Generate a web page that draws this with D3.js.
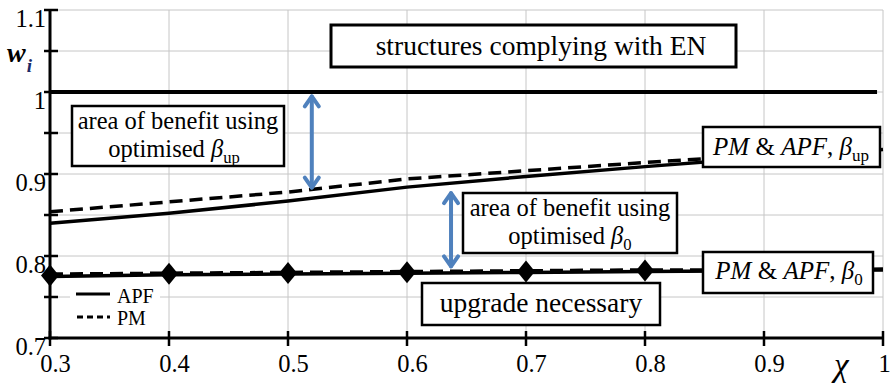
<!DOCTYPE html>
<html>
<head>
<meta charset="utf-8">
<script src="https://cdn.jsdelivr.net/npm/d3@7/dist/d3.min.js"></script>
<style>
  .serif { font-family: 'Liberation Serif', 'Times New Roman', Tinos, serif; }
</style>
</head>
<body style="margin:0;background:#fff">
<svg id="chart" width="891" height="384" class="serif"></svg>
<script>
// Relative load-bearing capacity w_i against the ratio chi
const chi = [0.3, 0.4, 0.5, 0.6, 0.7, 0.8, 0.9, 1.0];
const apfUp = [0.840, 0.852, 0.867, 0.884, 0.897, 0.909, 0.920, 0.930];
const pmUp  = [0.854, 0.866, 0.878, 0.894, 0.904, 0.914, 0.923, 0.932];
const apf0  = [0.775, 0.777, 0.778, 0.779, 0.780, 0.781, 0.782, 0.783];
const pm0   = [0.778, 0.779, 0.780, 0.781, 0.782, 0.783, 0.783, 0.784];
const markerChi = [0.3, 0.4, 0.5, 0.6, 0.7, 0.8];
const enLevel = 1.0;

const xTicks = [0.3, 0.4, 0.5, 0.6, 0.7, 0.8, 0.9, 1.0];
const xTickLabels = ["0.3", "0.4", "0.5", "0.6", "0.7", "0.8", "0.9", "1"];
const yTicks = [0.7, 0.75, 0.8, 0.85, 0.9, 0.95, 1.0, 1.05, 1.1];
const yTickLabels = ["0.7", "", "0.8", "", "0.9", "", "1", "", "1.1"];

// Annotation arrows: chi position and the w range they span
const arrowUp = { chi: 0.52, from: 0.997, to: 0.881 };
const arrow0  = { chi: 0.637, from: 0.879, to: 0.785 };

const svg = d3.select("#chart");
const x = d3.scaleLinear().domain([0.3, 1.0]).range([50, 883]);
const y = d3.scaleLinear().domain([0.7, 1.1]).range([338, 10]);

// grid
const grid = svg.append("g");
grid.selectAll("line.h").data(yTicks).join("line")
  .attr("x1", x(0.3)).attr("x2", x(1.0))
  .attr("y1", d => y(d)).attr("y2", d => y(d))
  .attr("stroke", "#c6c6c6").attr("stroke-width", 1);
grid.selectAll("line.v").data(xTicks).join("line")
  .attr("x1", d => x(d)).attr("x2", d => x(d))
  .attr("y1", y(1.1)).attr("y2", y(0.7))
  .attr("stroke", "#c6c6c6").attr("stroke-width", 1);

// EN reference level
svg.append("line")
  .attr("x1", x(0.3)).attr("x2", x(0.995))
  .attr("y1", y(enLevel)).attr("y2", y(enLevel))
  .attr("stroke", "#000").attr("stroke-width", 4);

const line = d3.line().x((d, i) => x(chi[i])).y(d => y(d));

function drawSeries(vals, dashed) {
  svg.append("path").datum(vals)
    .attr("d", line)
    .attr("fill", "none")
    .attr("stroke", "#000")
    .attr("stroke-width", 3.5)
    .attr("stroke-dasharray", dashed ? "13,7" : null);
}
drawSeries(apfUp, false);
drawSeries(pmUp, true);
drawSeries(apf0, false);
drawSeries(pm0, true);

// diamond markers on the beta_0 curve
const apf0At = c => apf0[chi.indexOf(c)];
svg.selectAll("path.mk").data(markerChi).join("path")
  .attr("d", d => {
    const cx = x(d), cy = y(apf0At(d)) - 1;
    return `M${cx},${cy - 11}L${cx + 9},${cy}L${cx},${cy + 11}L${cx - 9},${cy}Z`;
  })
  .attr("fill", "#000");

// axes (labels only; the axis lines and crossing ticks are drawn below)
const yAxis = d3.axisLeft(y).tickValues(yTicks).tickSize(0)
  .tickFormat((d, i) => yTickLabels[i]);
const gy = svg.append("g").attr("transform", `translate(${x(0.3)},0)`).call(yAxis)
  .attr("font-family", null).attr("font-size", null);
gy.select(".domain").remove();
gy.selectAll("text")
  .attr("class", "serif")
  .attr("x", -4).attr("dy", null).attr("y", 16)
  .attr("font-size", 24.5)
  .attr("fill", "#000").attr("text-anchor", "end");

const xAxis = d3.axisBottom(x).tickValues(xTicks).tickSize(0)
  .tickFormat((d, i) => xTickLabels[i]);
const gx = svg.append("g").attr("transform", `translate(0,${y(0.7)})`).call(xAxis)
  .attr("font-family", null).attr("font-size", null);
gx.select(".domain").remove();
gx.selectAll("text")
  .attr("class", "serif")
  .attr("x", (d, i) => i === xTicks.length - 1 ? 1 : 5).attr("dy", null).attr("y", 34)
  .attr("font-size", 24.5)
  .attr("fill", "#000").attr("text-anchor", "middle");

svg.append("line").attr("x1", x(0.3)).attr("x2", x(0.3))
  .attr("y1", y(1.1)).attr("y2", y(0.7) + 1.5)
  .attr("stroke", "#000").attr("stroke-width", 3);
svg.append("line").attr("x1", x(0.3) - 1.5).attr("x2", x(1.0))
  .attr("y1", y(0.7)).attr("y2", y(0.7))
  .attr("stroke", "#000").attr("stroke-width", 3);
svg.selectAll("line.yt").data(yTicks).join("line")
  .attr("x1", x(0.3) - 6).attr("x2", x(0.3) + 8)
  .attr("y1", d => y(d)).attr("y2", d => y(d))
  .attr("stroke", "#000").attr("stroke-width", 2.5);
svg.selectAll("line.xt").data(xTicks).join("line")
  .attr("x1", d => x(d)).attr("x2", d => x(d))
  .attr("y1", y(0.7) - 7).attr("y2", y(0.7) + 8)
  .attr("stroke", "#000").attr("stroke-width", 2.5);

function txt(tx, ty, size) {
  return svg.append("text").attr("class", "serif").attr("x", tx).attr("y", ty)
    .attr("font-size", size).attr("fill", "#000");
}

// axis titles
const wt = txt(7, 62, 28).attr("font-style", "italic").attr("font-weight", "bold");
wt.append("tspan").text("w");
wt.append("tspan").attr("dx", 1).attr("dy", 10).attr("font-size", 19)
  .attr("fill", "#1c2a66").text("i");

txt(834, 376, 33).attr("font-style", "italic").text("χ");

// blue double-headed arrows
function arrow(a) {
  const ax = x(a.chi), y1 = y(a.from), y2 = y(a.to);
  const g = svg.append("g").attr("stroke", "#4f81bd").attr("fill", "none")
    .attr("stroke-width", 4).attr("stroke-linecap", "round").attr("stroke-linejoin", "round");
  g.append("line").attr("x1", ax).attr("x2", ax).attr("y1", y1 + 2).attr("y2", y2 - 2);
  g.append("path").attr("d", `M${ax - 7},${y1 + 12}L${ax},${y1 + 2}L${ax + 7},${y1 + 12}`);
  g.append("path").attr("d", `M${ax - 7},${y2 - 12}L${ax},${y2 - 2}L${ax + 7},${y2 - 12}`);
}
arrow(arrowUp);
arrow(arrow0);

// text boxes
function box(x0, y0, w, h, sw) {
  svg.append("rect").attr("x", x0).attr("y", y0).attr("width", w).attr("height", h)
    .attr("fill", "#fff").attr("stroke", "#000").attr("stroke-width", sw);
}
function label(tx, ty, size, parts) {
  const t = txt(tx, ty, size).attr("text-anchor", "middle");
  parts.forEach(p => {
    const s = t.append("tspan").text(p.t);
    if (p.style) s.attr("font-style", p.style);
    if (p.sub) s.attr("font-size", size * 0.68).attr("dy", 6);
  });
  return t;
}

box(331, 25, 405, 42, 3);
label(541, 55, 27.5, [{ t: "structures complying with EN" }]);

box(72, 106, 212, 60, 2.5);
label(178, 129, 24.5, [{ t: "area of benefit using" }]);
label(174, 157, 24.5, [{ t: "optimised " }, { t: "β", style: "italic" }, { t: "up", sub: true }]);

box(463, 193, 214, 60, 2.5);
label(570, 216, 24.5, [{ t: "area of benefit using" }]);
label(570, 244, 24.5, [{ t: "optimised " }, { t: "β", style: "italic" }, { t: "0", sub: true }]);

box(422, 283, 238, 42, 2.5);
label(541, 312, 27.5, [{ t: "upgrade necessary" }]);

box(703, 127, 177, 40, 2.5);
label(791, 155, 25, [{ t: "PM", style: "italic" }, { t: " & " }, { t: "APF", style: "italic" }, { t: ", " }, { t: "β", style: "italic" }, { t: "up", sub: true }]);

box(703, 252, 170, 41, 2.5);
label(789, 279, 25, [{ t: "PM", style: "italic" }, { t: " & " }, { t: "APF", style: "italic" }, { t: ", " }, { t: "β", style: "italic" }, { t: "0", sub: true }]);

// legend
svg.append("rect").attr("x", 70).attr("y", 283).attr("width", 90).attr("height", 45).attr("fill", "#fff");
svg.append("line").attr("x1", 76).attr("x2", 110).attr("y1", 294).attr("y2", 294)
  .attr("stroke", "#000").attr("stroke-width", 3);
svg.append("line").attr("x1", 77).attr("x2", 110).attr("y1", 317).attr("y2", 317)
  .attr("stroke", "#000").attr("stroke-width", 3).attr("stroke-dasharray", "6,4");
txt(117, 303, 20).text("APF");
txt(117, 325, 20).text("PM");
</script>
</body>
</html>
